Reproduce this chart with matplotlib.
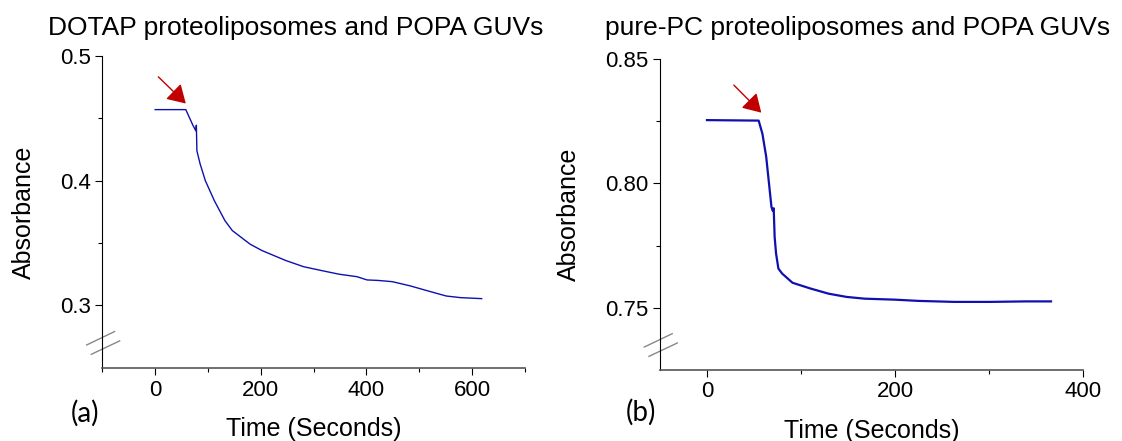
import numpy as np
import matplotlib
matplotlib.use('Agg')
from matplotlib import pyplot as plt

# panel (a): DOTAP proteoliposomes + POPA GUVs
time_a = [0, 58, 71.5, 77, 78, 79, 85, 95, 112, 132, 146, 180, 202, 247, 281, 314,
          348, 382, 401, 422, 449, 483, 517, 551, 578, 618]
abs_a = [0.457, 0.457, 0.4444, 0.440, 0.4445, 0.424, 0.4136, 0.400, 0.384, 0.368,
         0.360, 0.349, 0.344, 0.336, 0.331, 0.328, 0.325, 0.323, 0.3204, 0.320,
         0.319, 0.3156, 0.3115, 0.3075, 0.3062, 0.3054]

# panel (b): pure-PC proteoliposomes + POPA GUVs
time_b = [0, 55, 59, 63, 68.6, 70, 71, 72, 73.5, 76, 80, 91, 110, 129.5, 148.6,
          167.6, 200, 225, 263, 301, 339, 366]
abs_b = [0.8255, 0.8253, 0.820, 0.8108, 0.7906, 0.789, 0.790, 0.7785, 0.7718,
         0.7657, 0.7637, 0.760, 0.7577, 0.7556, 0.7543, 0.7536, 0.7532, 0.7527,
         0.7523, 0.7523, 0.7525, 0.7525]

titles = ['DOTAP proteoliposomes and POPA GUVs', 'pure-PC proteoliposomes and POPA GUVs']
panel_tags = ['(a)', '(b)']

plt.rcParams['font.family'] = ['Liberation Sans', 'DejaVu Sans']
fig = plt.figure(figsize=(11.22, 4.41), dpi=100)

ax1 = fig.add_axes([0.0912, 0.1662, 0.3767, 0.7068])
ax2 = fig.add_axes([0.5882, 0.1617, 0.3770, 0.7039])

line_col = '#1010b0'
ax1.plot(time_a, abs_a, color=line_col, lw=1.0)
ax2.plot(time_b, abs_b, color=line_col, lw=1.6)

ax1.set_xlim(-100, 700)
ax1.set_ylim(0.25, 0.5)
ax1.set_xticks([0, 200, 400, 600])
ax1.set_xticks([-100, 100, 300, 500, 700], minor=True)
ax1.set_yticks([0.3, 0.4, 0.5])
ax1.set_yticks([0.35, 0.45], minor=True)
ax1.set_yticklabels(['0.3', '0.4', '0.5'])

ax2.set_xlim(-50, 400)
ax2.set_ylim(0.725, 0.85)
ax2.set_xticks([0, 200, 400])
ax2.set_xticks([100, 300], minor=True)
ax2.set_yticks([0.75, 0.80, 0.85])
ax2.set_yticks([0.775, 0.825], minor=True)
ax2.set_yticklabels(['0.75', '0.80', '0.85'])

# arrows marking the point of addition
arrow_props = dict(arrowstyle='-|>,head_length=0.5,head_width=0.3', color='#c00000',
                   lw=1.0, mutation_scale=22, shrinkA=0, shrinkB=0)
ax1.annotate('', xy=(58, 0.4619), xytext=(6, 0.4833), arrowprops=arrow_props)
ax2.annotate('', xy=(57.8, 0.8285), xytext=(28.6, 0.8396), arrowprops=arrow_props)

for ax, ttl, tx in zip([ax1, ax2], titles, [0.0428, 0.539]):
    ax.spines['top'].set_visible(False)
    ax.spines['right'].set_visible(False)
    ax.spines['left'].set_linewidth(0.8)
    ax.spines['bottom'].set_linewidth(1.2)
    ax.spines['bottom'].set_color('#555555')
    ax.tick_params(which='major', direction='out', length=5, width=0.8, labelsize=16)
    ax.tick_params(which='minor', direction='out', length=3, width=0.8)
    ax.set_xlabel('Time (Seconds)', fontsize=18, labelpad=12)
    ax.set_ylabel('Absorbance', fontsize=18, labelpad=17)
    # axis break marks
    for x0, x1, y0, y1 in [(-0.037, 0.029, 0.073, 0.116), (-0.026, 0.041, 0.043, 0.086)]:
        ax.plot([x0, x1], [y0, y1], transform=ax.transAxes, color='#888888',
                lw=1.0, clip_on=False)
    fig.text(tx, 0.936, ttl, ha='left', va='center', fontsize=19)

fig.text(0.076, 0.063, panel_tags[0], ha='center', va='center', fontsize=20,
         family=['Lato', 'DejaVu Sans'])
fig.text(0.571, 0.066, panel_tags[1], ha='center', va='center', fontsize=20,
         family=['Lato', 'DejaVu Sans'])

fig.savefig('out.png', dpi=100)
